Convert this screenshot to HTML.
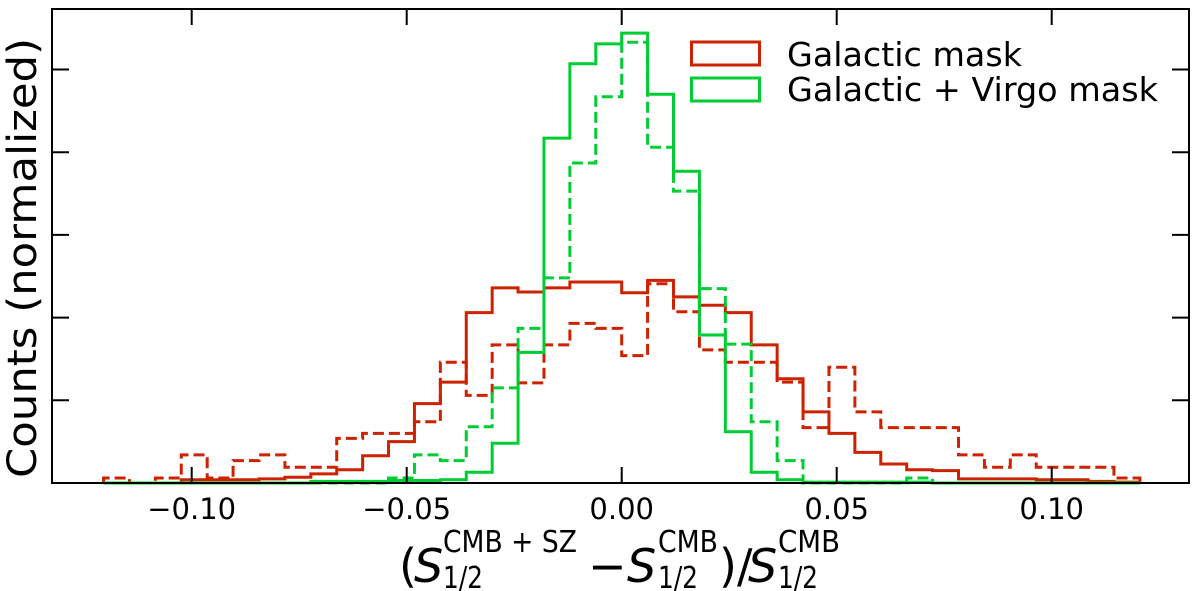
<!DOCTYPE html>
<html><head><meta charset="utf-8"><style>
html,body{margin:0;padding:0;background:#fff;}
svg{display:block;font-family:"DejaVu Sans","Liberation Sans",sans-serif;}
</style></head><body>
<svg id="chart" width="1200" height="591" viewBox="0 0 1200 591">
<g id="series"></g>
<rect x="52" y="9" width="1137" height="474" fill="none" stroke="#000" stroke-width="2"/>
<g id="ticks"></g>
<text x="36" y="258" font-size="40" text-anchor="middle" transform="rotate(-90 36 258)" textLength="440" lengthAdjust="spacingAndGlyphs">Counts (normalized)</text>
<g font-size="46">
<text x="399" y="582">(</text>
<text x="414" y="582" font-style="italic">S</text>
<text x="443" y="552" font-size="30" textLength="134" lengthAdjust="spacingAndGlyphs">CMB + SZ</text>
<text x="443" y="588" font-size="30" textLength="40" lengthAdjust="spacingAndGlyphs">1/2</text>
<text x="588" y="582">−</text>
<text x="627" y="582" font-style="italic">S</text>
<text x="658" y="552" font-size="30" textLength="60" lengthAdjust="spacingAndGlyphs">CMB</text>
<text x="658" y="588" font-size="30" textLength="40" lengthAdjust="spacingAndGlyphs">1/2</text>
<text x="719" y="582">)/</text>
<text x="748" y="582" font-style="italic">S</text>
<text x="778" y="552" font-size="30" textLength="62" lengthAdjust="spacingAndGlyphs">CMB</text>
<text x="778" y="588" font-size="30" textLength="40" lengthAdjust="spacingAndGlyphs">1/2</text>
</g>
<g>
<rect x="691.5" y="42" width="68" height="23" fill="none" stroke="#cc2200" stroke-width="3"/>
<text x="787" y="66" font-size="33" textLength="235" lengthAdjust="spacingAndGlyphs">Galactic mask</text>
<rect x="691.5" y="78" width="68" height="23" fill="none" stroke="#00cc33" stroke-width="3"/>
<text x="787" y="101" font-size="33" textLength="371" lengthAdjust="spacingAndGlyphs">Galactic + Virgo mask</text>
</g>
</svg>
<script>
const binMin = -0.1205;
const binMax = 0.1205;
const redSolid = [0,0,0,0.04,0.04,0.04,0.05,0.07,0.11,0.16,0.33,0.50,0.96,1.22,2.06,2.36,2.31,2.36,2.43,2.43,2.30,2.45,2.25,2.15,2.06,1.67,1.26,0.86,0.60,0.37,0.23,0.16,0.15,0.05,0.05,0.05,0.04,0.04,0.02,0.01];
const redDashed = [0.06,0,0.06,0.34,0.06,0.27,0.34,0.19,0.19,0.54,0.60,0.60,0.74,1.46,1.06,1.67,1.21,1.67,1.93,1.87,1.54,2.41,2.07,1.61,1.46,1.46,1.22,0.67,1.40,0.86,0.67,0.67,0.67,0.34,0.19,0.34,0.19,0.19,0.19,0.06];
const greenSolid = [0,0,0,0,0,0,0,0,0.02,0.02,0.02,0.03,0.03,0.04,0.13,0.48,1.58,4.17,5.07,5.31,5.44,4.70,3.77,1.79,0.62,0.13,0.04,0.01,0.01,0.01,0.01,0.01,0,0,0,0,0,0,0,0];
const greenDashed = [0,0,0,0,0,0,0,0,0,0,0,0.06,0.34,0.27,0.68,1.15,1.87,2.48,3.87,4.67,5.33,4.06,3.53,2.35,1.68,0.74,0.27,0,0,0,0,0.06,0,0,0,0,0,0,0,0];
const xTicks = [-0.10,-0.05,0.00,0.05,0.10];
const xTickLabels = ["−0.10","−0.05","0.00","0.05","0.10"];
const yTicks = [0,1,2,3,4,5];

const NS = "http://www.w3.org/2000/svg";
const X0 = 621.7, XS = 4300, Y0 = 483, YS = 82.7;
function xs(v){ return X0 + v*XS; }
function ys(v){ return Y0 - v*YS; }

const sg = document.getElementById('series');
function drawHist(vals, color, dashed, name){
  const n = vals.length, w = (binMax-binMin)/n;
  let d = 'M' + xs(binMin) + ' ' + ys(0);
  vals.forEach((v,i)=>{
    d += ' V' + ys(v) + ' H' + xs(binMin + (i+1)*w);
  });
  d += ' V' + ys(0);
  const p = document.createElementNS(NS,'path');
  p.setAttribute('d', d);
  p.setAttribute('fill','none');
  p.setAttribute('stroke', color);
  p.setAttribute('stroke-width','3');
  if (dashed) p.setAttribute('stroke-dasharray','11 5');
  
  
  sg.appendChild(p);
}
drawHist(redDashed, '#cc2200', true, 'galactic-mask-dashed');
drawHist(redSolid, '#cc2200', false, 'galactic-mask-solid');
drawHist(greenDashed, '#00cc33', true, 'galactic-virgo-mask-dashed');
drawHist(greenSolid, '#00cc33', false, 'galactic-virgo-mask-solid');

const tg = document.getElementById('ticks');
function line(x1,y1,x2,y2,name){
  const l = document.createElementNS(NS,'line');
  l.setAttribute('x1',x1); l.setAttribute('y1',y1); l.setAttribute('x2',x2); l.setAttribute('y2',y2);
  l.setAttribute('stroke','#000'); l.setAttribute('stroke-width','2');
  
  
  tg.appendChild(l);
}
xTicks.forEach((v,i)=>{
  const x = xs(v);
  line(x,483,x,467,'x-tick');
  line(x,9,x,25,'x-tick-top');
  const t = document.createElementNS(NS,'text');
  t.setAttribute('x', x); t.setAttribute('y', 519);
  t.setAttribute('font-size','29'); t.setAttribute('text-anchor','middle');
  t.textContent = xTickLabels[i];
  
  
  tg.appendChild(t);
});
yTicks.forEach(v=>{
  const y = ys(v);
  line(52,y,69,y,'y-tick');
  line(1189,y,1172,y,'y-tick-right');
});
</script>
</body></html>
